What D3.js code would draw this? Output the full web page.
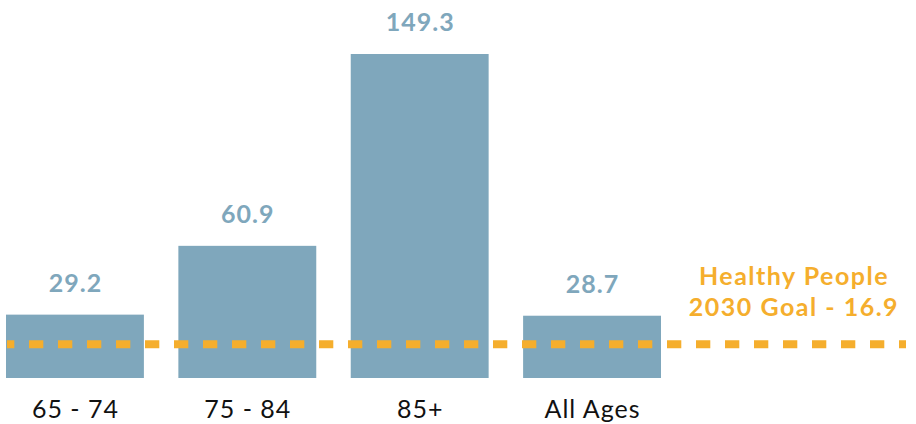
<!DOCTYPE html>
<html><head><meta charset="utf-8">
<script src="https://cdn.jsdelivr.net/npm/d3@7"></script>
<style>html,body{margin:0;padding:0;background:#fff;}svg{display:block;font-family:Lato,"Open Sans",sans-serif;}</style>
</head><body>
<svg id="c" width="916" height="424"></svg>
<script>
const categories = ["65 - 74", "75 - 84", "85+", "All Ages"];
const values = [29.2, 60.9, 149.3, 28.7];
const goalValue = 16.9;
const goalLabel = ["Healthy People", "2030 Goal - 16.9"];

const barColor = "#7fa7bc", goalColor = "#f5ae2d";
const svg = d3.select("#c");
const x = d3.scaleBand().domain(categories).range([6, 661]).paddingInner(0.2).paddingOuter(0);
const y = d3.scaleLinear().domain([0, 149.3]).range([378, 54]);

svg.selectAll("rect.bar").data(values).join("rect")
  .attr("class","bar")
  .attr("x",(d,i)=>x(categories[i])).attr("width",x.bandwidth())
  .attr("y",d=>y(d)).attr("height",d=>y(0)-y(d))
  .attr("fill",barColor);

svg.selectAll("text.val").data(values).join("text")
  .attr("class","val")
  .attr("x",(d,i)=>x(categories[i])+x.bandwidth()/2+0.5)
  .attr("y",d=>y(d)-23)
  .attr("text-anchor","middle")
  .attr("font-size",25).attr("font-weight",700).attr("letter-spacing",1)
  .attr("fill",barColor)
  .text(d=>d.toFixed(1));

const xAxis = svg.append("g").attr("transform",`translate(0,${y(0)})`)
  .call(d3.axisBottom(x).tickSize(0).tickPadding(0));
xAxis.select(".domain").remove();
xAxis.selectAll("text").attr("font-family","Lato, sans-serif").attr("font-size",25)
  .attr("letter-spacing",1).attr("dx",0.5)
  .attr("fill","#111").attr("dy",0).attr("y",40);

svg.append("line")
  .attr("x1",7).attr("x2",906)
  .attr("y1",y(goalValue)+3).attr("y2",y(goalValue)+3)
  .attr("stroke",goalColor).attr("stroke-width",8)
  .attr("stroke-dasharray","14.3 14.7").attr("stroke-dashoffset",7);

const gt = svg.append("text").attr("text-anchor","middle")
  .attr("font-size",25).attr("font-weight",700).attr("letter-spacing",1.5).attr("fill",goalColor);
goalLabel.forEach((t,i)=>gt.append("tspan").attr("x",794).attr("y",285+i*31).text(t));
</script>
</body></html>
